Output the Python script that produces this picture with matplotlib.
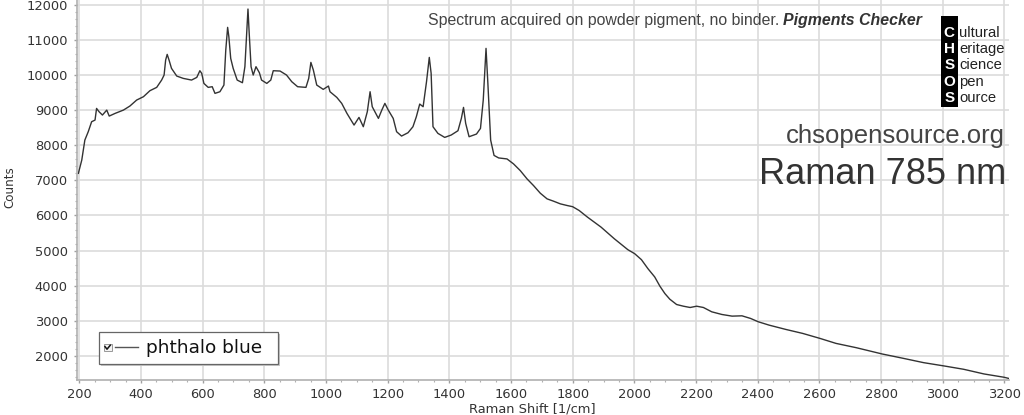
import numpy as np
import matplotlib
matplotlib.use("Agg")
import matplotlib.pyplot as plt
from matplotlib.patches import Rectangle
from matplotlib.ticker import MultipleLocator

# Raman spectrum, phthalo blue
shift = [197, 208, 218, 229, 240, 251, 256, 264, 275, 289, 297, 316, 343, 364,
         386, 408, 429, 451, 467, 475, 480, 485, 491, 499, 516, 537, 564, 581,
         591, 597, 604, 618, 631, 640, 656, 669, 675, 681, 685, 691, 699, 712,
         729, 737, 744, 747, 751, 757, 764, 773, 784, 791, 808, 821, 829, 851,
         872, 889, 908, 935, 944, 951, 959, 970, 991, 1008, 1013, 1035, 1051,
         1068, 1091, 1107, 1121, 1134, 1143, 1150, 1170, 1181, 1191, 1202, 1218,
         1229, 1245, 1266, 1282, 1293, 1304, 1315, 1326, 1335, 1341, 1347, 1363,
         1385, 1406, 1428, 1439, 1446, 1453, 1464, 1488, 1501, 1510, 1519, 1525,
         1534, 1545, 1560, 1587, 1608, 1630, 1652, 1673, 1695, 1717, 1738, 1760,
         1782, 1800, 1821, 1848, 1892, 1935, 1979, 2001, 2023, 2044, 2066, 2083,
         2099, 2115, 2137, 2159, 2181, 2202, 2224, 2251, 2284, 2317, 2349, 2377,
         2402, 2437, 2491, 2546, 2602, 2654, 2720, 2804, 2872, 2938, 3005, 3068,
         3134, 3199, 3215]
counts = [7200, 7578, 8147, 8385, 8669, 8716, 9048, 8954, 8859, 9000, 8830, 8906,
          9000, 9115, 9286, 9381, 9552, 9647, 9855, 9998, 10425, 10586, 10425,
          10188, 9969, 9903, 9855, 9931, 10121, 10045, 9760, 9647, 9666, 9476,
          9523, 9713, 10710, 11355, 11089, 10472, 10188, 9855, 9779, 10235, 11374,
          11877, 11184, 10235, 9998, 10235, 10064, 9855, 9760, 9855, 10121, 10112,
          9998, 9808, 9666, 9647, 9903, 10358, 10140, 9713, 9590, 9685, 9523, 9362,
          9191, 8906, 8574, 8792, 8527, 8954, 9523, 9096, 8764, 9000, 9191, 9000,
          8764, 8385, 8261, 8356, 8527, 8811, 9172, 9096, 9808, 10500, 10045, 8527,
          8337, 8223, 8290, 8413, 8764, 9077, 8622, 8242, 8318, 8479, 9286, 10757,
          9760, 8147, 7710, 7638, 7610, 7470, 7278, 7042, 6852, 6634, 6473, 6407,
          6331, 6284, 6250, 6142, 5953, 5669, 5338, 5026, 4913, 4742, 4487, 4251,
          3986, 3778, 3617, 3466, 3418, 3381, 3418, 3381, 3258, 3182, 3135, 3144,
          3069, 2974, 2879, 2757, 2643, 2501, 2359, 2236, 2057, 1934, 1811, 1716,
          1622, 1489, 1395, 1360]

series_name = "phthalo blue"
note = "Spectrum acquired on powder pigment, no binder. "
note_bold = "Pigments Checker"
site = "chsopensource.org"
title = "Raman 785 nm"
logo_letters = ["C", "H", "S", "O", "S"]
logo_words = ["ultural", "eritage", "cience", "pen", "ource"]

W, H = 1024, 415


def fx(px):
    return px / W


def fy(py):
    return 1 - py / H


fig = plt.figure(figsize=(W / 100, H / 100), dpi=100)
ax = fig.add_axes([fx(77.3), fy(380), fx(1009) - fx(77.3), fy(0) - fy(380)])

ax.plot(shift, counts, color="#333333", lw=1.0)
ax.set_xlim(193.5, 3215)
ax.set_ylim(1317, 12134)

ax.xaxis.set_major_locator(MultipleLocator(200))
ax.xaxis.set_minor_locator(MultipleLocator(50))
ax.yaxis.set_major_locator(MultipleLocator(1000))
ax.yaxis.set_minor_locator(MultipleLocator(200))
ax.grid(True, which="major", color="#dcdcdc", lw=1.2)
ax.set_axisbelow(True)

for s in ["top", "right"]:
    ax.spines[s].set_visible(False)
for s in ["left", "bottom"]:
    ax.spines[s].set_color("#b0b0b0")
    ax.spines[s].set_linewidth(1.2)

ax.tick_params(which="major", length=2.5, width=1, color="#a0a0a0",
               labelsize=9.4, labelcolor="#333333")
ax.tick_params(which="minor", length=1.6, width=0.8, color="#b0b0b0")
ax.tick_params(axis="x", which="major", pad=3.5)
ax.tick_params(axis="y", which="major", pad=4.3)

fig.text(fx(532), fy(409), "Raman Shift [1/cm]", ha="center", va="center",
         fontsize=9.4, color="#333333")
fig.text(fx(10), fy(187), "Counts", ha="center", va="center", rotation=90,
         fontsize=8.6, color="#333333")

# legend box with checkbox
fig.patches.append(Rectangle((fx(101), fy(366.3)), fx(279.3) - fx(100.3),
                             fy(333.7) - fy(366.3), transform=fig.transFigure,
                             facecolor="#c8c8c8", edgecolor="none"))
fig.patches.append(Rectangle((fx(99.3), fy(364.3)), fx(278.3) - fx(99.3),
                             fy(331.7) - fy(364.3), transform=fig.transFigure,
                             facecolor="white", edgecolor="#666666", lw=0.9))
fig.patches.append(Rectangle((fx(103.5), fy(351)), fx(111.5) - fx(103.5),
                             fy(343.5) - fy(351), transform=fig.transFigure,
                             facecolor="#f4f4f4", edgecolor="#999999", lw=0.7))
fig.lines.append(plt.Line2D([fx(105), fx(107), fx(110.3)],
                            [fy(346.6), fy(349.2), fy(345.2)],
                            transform=fig.transFigure, color="#111111", lw=1.1))
fig.lines.append(plt.Line2D([fx(115), fx(137.5)], [fy(347.3), fy(347.3)],
                            transform=fig.transFigure, color="#555555", lw=1.0))
fig.text(fx(146), fy(353.2), series_name, ha="left", va="baseline",
         fontsize=13.3, color="#111111")

# header note: normal part + bold italic part
fig.canvas.draw()
renderer = fig.canvas.get_renderer()
tb = fig.text(fx(922), fy(25), note_bold, ha="right", va="baseline",
              fontsize=11.4, family="Liberation Sans", weight="bold",
              style="italic", color="#333333")
bb = tb.get_window_extent(renderer)
fig.text(bb.x0 / W, fy(25), note, ha="right", va="baseline",
         fontsize=11.4, family="Liberation Sans", color="#444444")

fig.text(fx(1005), fy(143.3), site, ha="right", va="baseline",
         fontsize=18.5, family="Liberation Sans", color="#444444")
fig.text(fx(1006), fy(184), title, ha="right", va="baseline",
         fontsize=26, family="Liberation Sans", color="#333333")

# CHSOS logo
fig.patches.append(Rectangle((fx(940.7), fy(106.7)), fx(958) - fx(940.7),
                             fy(16) - fy(106.7), transform=fig.transFigure,
                             facecolor="black", edgecolor="none"))
for i, (letter, word) in enumerate(zip(logo_letters, logo_words)):
    base = 36.7 + i * 16.3
    fig.text(fx(949.3), fy(base), letter, ha="center", va="baseline",
             fontsize=11, family="Liberation Sans", weight="bold", color="white")
    fig.text(fx(959.5), fy(base), word, ha="left", va="baseline",
             fontsize=10.6, family="Liberation Sans", color="#222222")

fig.savefig("out.png", dpi=100)
